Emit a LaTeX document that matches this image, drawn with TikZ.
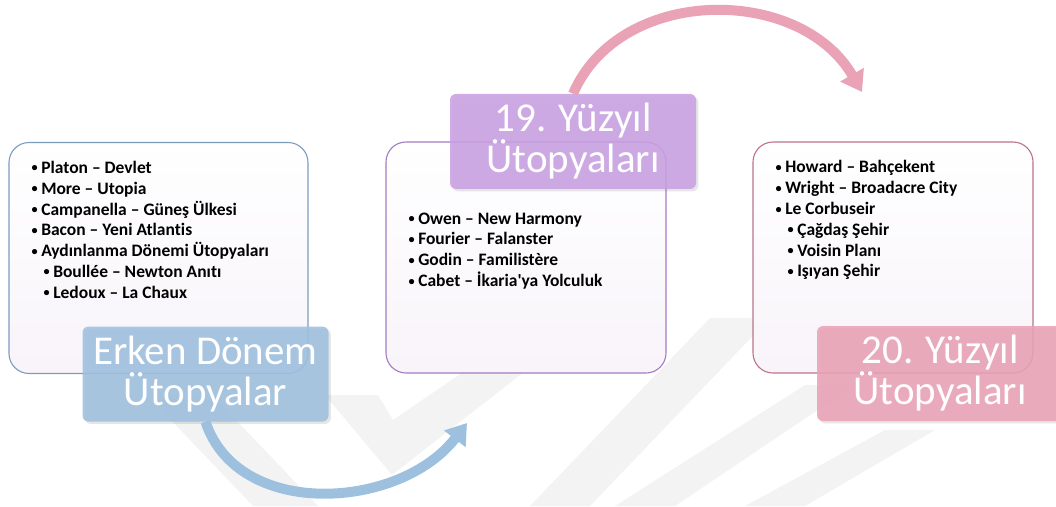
\documentclass[tikz,border=0pt]{standalone}
\usepackage{fontspec}
\setmainfont{Carlito}[Ligatures={TeX,NoCommon}]
\usetikzlibrary{arrows.meta,shadows}

\definecolor{erkenmavi}{HTML}{9EC0DF}
\definecolor{erkenkenar}{HTML}{7C9CBE}
\definecolor{ondokuzmor}{HTML}{C9A1E2}
\definecolor{ondokuzkenar}{HTML}{A27BC4}
\definecolor{yirmipembe}{HTML}{EAA2B6}
\definecolor{yirmikenar}{HTML}{BC7388}
\definecolor{kutuzemin}{HTML}{F8F4FA}
\definecolor{filigran}{HTML}{F3F3F3}

\newcommand{\madde}{\raisebox{1.5pt}{\scalebox{.7}{•}}\hspace{3.5pt}}

\begin{document}
\begin{tikzpicture}[x=1pt,y=-1pt,
  kutu/.style={rounded corners=20pt,line width=1.1pt,top color=white,bottom color=kutuzemin,
    minimum width=280pt,minimum height=231pt,inner sep=0pt},
  baslik/.style={rounded corners=6pt,text=white,align=center,inner sep=0pt,
    minimum width=246pt,minimum height=95pt,fill opacity=.88,text opacity=1,
    drop shadow={opacity=.2},font=\fontsize{41}{41}\selectfont},
  liste/.style={anchor=north west,align=left,inner sep=0pt,
    font=\bfseries\fontsize{17.5}{20.8}\selectfont},
  ok/.style={line width=10pt,-{Triangle[length=20pt,width=26pt]}}]

\useasboundingbox (0,0) rectangle (1056,506);

\fill[filigran] (150,398) -- (215,398) -- (318,506) -- (253,506) -- cycle;
\fill[filigran] (325,395) -- (392,475) -- (565,340) -- (510,340) -- (393,420) -- (378,395) -- cycle;
\fill[filigran] (530,506) -- (710,318) -- (770,318) -- (590,506) -- cycle;
\fill[filigran] (615,506) -- (805,385) -- (855,385) -- (675,506) -- cycle;
\fill[filigran] (745,506) -- (885,430) -- (935,430) -- (805,506) -- cycle;

\node[kutu,draw=erkenkenar,minimum width=299pt] (b1) at (158.5,258) {};
\node[kutu,draw=ondokuzkenar] (b2) at (526,257.5) {};
\node[kutu,draw=yirmikenar] (b3) at (893,257.5) {};

\node[liste] (l1) at ([shift={(23,19)}]b1.north west) {%
\madde Platon – Devlet\\
\madde More – Utopia\\
\madde Campanella – Güneş Ülkesi\\
\madde Bacon – Yeni Atlantis\\
\madde Aydınlanma Dönemi Ütopyaları\\
\hspace*{12pt}\madde Boullée – Newton Anıtı\\
\hspace*{12pt}\madde Ledoux – La Chaux};
\node[liste] (l2) at ([shift={(23,71)}]b2.north west) {%
\madde Owen – New Harmony\\
\madde Fourier – Falanster\\
\madde Godin – Familistère\\
\madde Cabet – İkaria\textquotesingle ya Yolculuk};
\node[liste] (l3) at ([shift={(23,19)}]b3.north west) {%
\madde Howard – Bahçekent\\
\madde Wright – Broadacre City\\
\madde Le Corbuseir\\
\hspace*{12pt}\madde Çağdaş Şehir\\
\hspace*{12pt}\madde Voisin Planı\\
\hspace*{12pt}\madde Işıyan Şehir};

\node[baslik,fill=erkenmavi] (t1) at ([xshift=47pt]b1.south) {Erken Dönem\\Ütopyalar};
\node[baslik,fill=ondokuzmor] (t2) at ([xshift=47pt]b2.north) {19. Yüzyıl\\Ütopyaları};
\node[baslik,fill=yirmipembe] (t3) at ([xshift=47pt]b3.south) {20. Yüzyıl\\Ütopyaları};

\coordinate (u1) at (467,423);
\coordinate (u2) at (862,92);

\draw[ok,erkenmavi] (t1.south) .. controls (238,520) and (400,510) .. (u1);
\draw[ok,yirmipembe] (t2.north) .. controls (620,-15) and (800,-15) .. (u2);

\end{tikzpicture}
\end{document}
